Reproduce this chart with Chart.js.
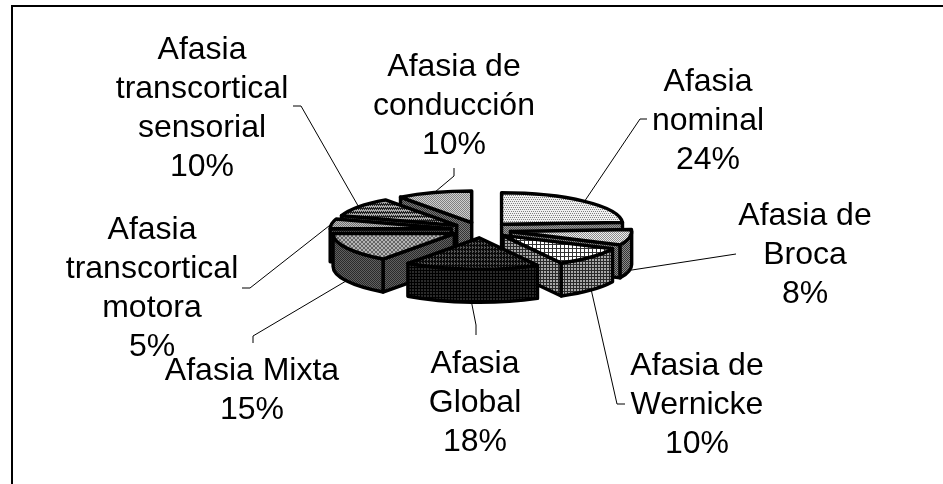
<!DOCTYPE html>
<html>
<head>
<meta charset="utf-8">
<title>Tipos de afasia</title>
<script src="https://cdn.jsdelivr.net/npm/chart.js@4"></script>
<style>
  html, body { margin: 0; padding: 0; background: #fff; }
  canvas { display: block; }
</style>
</head>
<body>
<canvas id="pieChart" width="943" height="484"></canvas>
<script>
const categories = [
    ['Afasia', 'nominal'],
    ['Afasia de', 'Broca'],
    ['Afasia de', 'Wernicke'],
    ['Afasia', 'Global'],
    ['Afasia Mixta'],
    ['Afasia', 'transcortical', 'motora'],
    ['Afasia', 'transcortical', 'sensorial'],
    ['Afasia de', 'conducción']
];
const percentages = [24, 8, 10, 18, 15, 5, 10, 10];

// 3D look of the pie
const TILT = 0.26;
const DEPTH = 33;
const EXPLODE = 30;
const EDGE = 3.4;

// first baseline and leader line bend points for each label
const labelLayout = [
    { x: 708, y: 91, bend: [[640, 119], [647, 119]] },
    { x: 805, y: 225, bend: [[736, 254]] },
    { x: 697, y: 375, bend: [[617, 404], [625, 404]] },
    { x: 475, y: 373, bend: [[476, 325], [476, 335]] },
    { x: 252, y: 380, bend: [[253, 336], [253, 343]] },
    { x: 152, y: 239, bend: [[250, 288], [242, 288]] },
    { x: 202, y: 59, bend: [[301, 106], [293, 106]] },
    { x: 454, y: 76, bend: [[454, 176], [454, 168]] }
];

// small repeating tiles: 1 = fg, 0 = bg
function tile(rows, fg, bg) {
    const c = document.createElement('canvas');
    c.width = rows[0].length;
    c.height = rows.length;
    const g = c.getContext('2d');
    g.fillStyle = bg;
    g.fillRect(0, 0, c.width, c.height);
    g.fillStyle = fg;
    rows.forEach((row, y) => {
        [...row].forEach((b, x) => { if (b === '1') g.fillRect(x, y, 1, 1); });
    });
    return g.createPattern(c, 'repeat');
}

const DOTS = ['10', '01'];
const GRID = ['1111', '1000', '1000', '1000'];
const FINE_GRID = ['111', '100', '100'];
const ROWS = ['0000', '1010', '0000', '0101'];
const COLS = ['101', '111', '101', '100'];
const DIAG = ['1001', '0110', '0110', '1001'];
const STRIPES = ['1111', '1010', '0000', '0101'];

const fills = [
    { top: tile(ROWS, '#808080', '#f0f0f0'), side: tile(DOTS, '#555555', '#999999') },
    { top: tile(DOTS, '#8c8c8c', '#eeeeee'), side: tile(DOTS, '#333333', '#8c8c8c') },
    { top: tile(GRID, '#333333', '#ffffff'), side: tile(FINE_GRID, '#2a2a2a', '#a8a8a8') },
    { top: tile(COLS, '#0a0a0a', '#555555'), side: tile(FINE_GRID, '#000000', '#2a2a2a') },
    { top: tile(DIAG, '#666666', '#b4b4b4'), side: tile(DOTS, '#2a2a2a', '#606060') },
    { top: tile(DOTS, '#707070', '#bcbcbc'), side: tile(DOTS, '#222222', '#666666') },
    { top: tile(STRIPES, '#222222', '#aaaaaa'), side: tile(DOTS, '#222222', '#666666') },
    { top: tile(DOTS, '#808080', '#cfcfcf'), side: tile(DOTS, '#333333', '#7a7a7a') }
];

function sliceGeometry(arc) {
    const mid = (arc.startAngle + arc.endAngle) / 2;
    const offset = arc.options.offset;
    return {
        mid,
        a0: arc.startAngle,
        a1: arc.endAngle,
        r: arc.outerRadius,
        x: arc.x + Math.cos(mid) * offset,
        y: arc.y + Math.sin(mid) * offset * TILT
    };
}

function rimPoint(s, angle) {
    return [s.x + Math.cos(angle) * s.r, s.y + Math.sin(angle) * s.r * TILT];
}

function paint(ctx, style) {
    ctx.fillStyle = style;
    ctx.fill();
    ctx.stroke();
}

function drawWall(ctx, s, angle, style) {
    const [px, py] = rimPoint(s, angle);
    ctx.beginPath();
    ctx.moveTo(s.x, s.y);
    ctx.lineTo(px, py);
    ctx.lineTo(px, py + DEPTH);
    ctx.lineTo(s.x, s.y + DEPTH);
    ctx.closePath();
    paint(ctx, style);
}

function drawSlice(ctx, s, fill) {
    // walls turned towards the viewer
    if (Math.cos(s.a0) < 0) drawWall(ctx, s, s.a0, fill.side);
    if (Math.cos(s.a1) > 0) drawWall(ctx, s, s.a1, fill.side);

    // outer rim, only the front half of the ellipse shows
    const lo = Math.max(s.a0, 0);
    const hi = Math.min(s.a1, Math.PI);
    if (hi > lo) {
        ctx.beginPath();
        ctx.ellipse(s.x, s.y, s.r, s.r * TILT, 0, lo, hi);
        ctx.ellipse(s.x, s.y + DEPTH, s.r, s.r * TILT, 0, hi, lo, true);
        ctx.closePath();
        paint(ctx, fill.side);
    }

    ctx.beginPath();
    ctx.moveTo(s.x, s.y);
    ctx.ellipse(s.x, s.y, s.r, s.r * TILT, 0, s.a0, s.a1);
    ctx.closePath();
    paint(ctx, fill.top);
}

function drawLeader(ctx, s, layout) {
    const [px, py] = rimPoint(s, s.mid);
    ctx.beginPath();
    ctx.moveTo(px, py + (Math.sin(s.mid) > 0 ? DEPTH : 0));
    layout.bend.forEach(([x, y]) => ctx.lineTo(x, y));
    ctx.stroke();
}

function drawLabel(ctx, lines, value, layout) {
    [...lines, value + '%'].forEach((text, i) => {
        ctx.fillText(text, layout.x, layout.y + i * 39);
    });
}

const tiltedPie = {
    id: 'tiltedPie',
    beforeDraw(chart) {
        const ctx = chart.ctx;
        ctx.save();
        ctx.strokeStyle = '#000';
        ctx.lineWidth = 2;
        ctx.beginPath();
        ctx.moveTo(12, 484);
        ctx.lineTo(12, 6);
        ctx.lineTo(943, 6);
        ctx.stroke();
        ctx.restore();
    },
    beforeDatasetDraw(chart, args) {
        const ctx = chart.ctx;
        const slices = args.meta.data.map(sliceGeometry);

        ctx.save();
        ctx.strokeStyle = '#000';
        ctx.lineWidth = 1;
        slices.forEach((s, i) => drawLeader(ctx, s, labelLayout[i]));

        // back to front
        ctx.lineWidth = EDGE;
        ctx.lineJoin = 'round';
        slices.map((s, i) => i)
            .sort((a, b) => Math.sin(slices[a].mid) - Math.sin(slices[b].mid))
            .forEach(i => drawSlice(ctx, slices[i], fills[i]));

        ctx.fillStyle = '#000';
        ctx.font = '32px "Liberation Sans"';
        ctx.textAlign = 'center';
        categories.forEach((lines, i) => drawLabel(ctx, lines, percentages[i], labelLayout[i]));
        ctx.restore();
        return false;
    }
};

new Chart(document.getElementById('pieChart'), {
    type: 'pie',
    data: {
        labels: categories,
        datasets: [{ data: percentages, offset: EXPLODE, borderWidth: EDGE }]
    },
    options: {
        responsive: false,
        animation: false,
        layout: { padding: { left: 100, right: 81, top: 92.1, bottom: 116.1 } },
        plugins: { legend: { display: false }, tooltip: { enabled: false } }
    },
    plugins: [tiltedPie]
});
</script>
</body>
</html>
